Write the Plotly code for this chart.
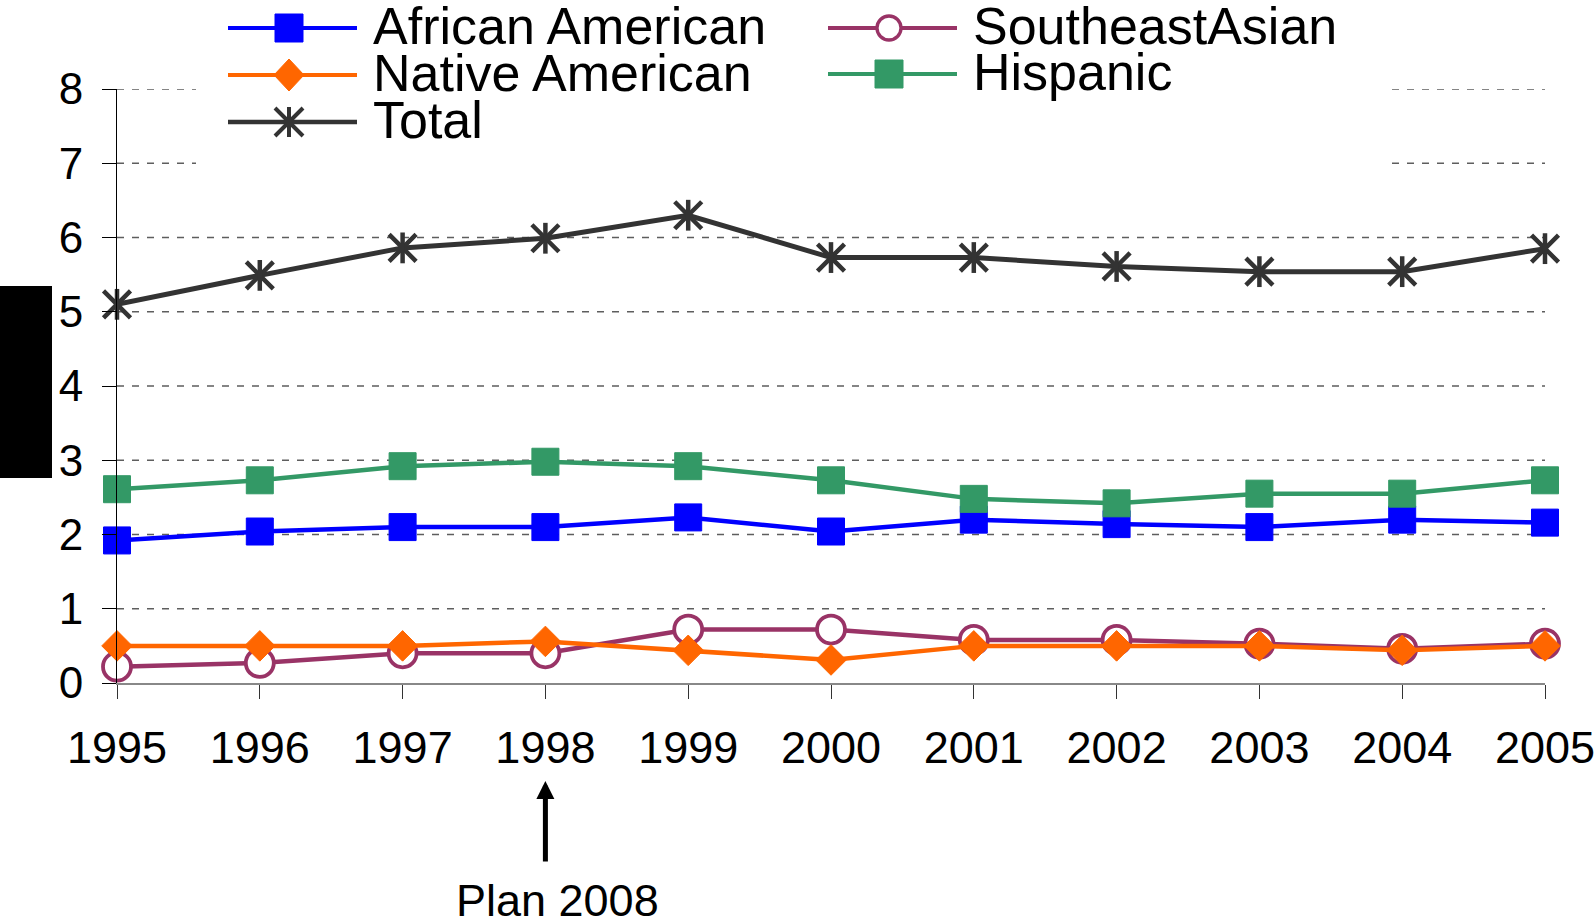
import plotly.graph_objects as go

# ---- data -------------------------------------------------------------
years = [1995, 1996, 1997, 1998, 1999, 2000, 2001, 2002, 2003, 2004, 2005]
african_american = [1.92, 2.04, 2.10, 2.10, 2.23, 2.04, 2.20, 2.14, 2.10, 2.20, 2.16]
southeast_asian = [0.22, 0.27, 0.40, 0.40, 0.72, 0.72, 0.58, 0.58, 0.53, 0.46, 0.53]
native_american = [0.50, 0.50, 0.50, 0.56, 0.44, 0.31, 0.50, 0.50, 0.50, 0.44, 0.50]
hispanic = [2.61, 2.73, 2.92, 2.98, 2.92, 2.73, 2.48, 2.42, 2.55, 2.55, 2.73]
total = [5.10, 5.49, 5.86, 5.99, 6.30, 5.73, 5.73, 5.61, 5.54, 5.54, 5.85]
y_ticks = [0, 1, 2, 3, 4, 5, 6, 7, 8]

# ---- page geometry (pixels) -----------------------------------------
W, H = 1594, 924
ML, MR, MT, MB = 117, 49, 89, 241
PW, PH = W - ML - MR, H - MT - MB
FONT = "Liberation Sans, Arial, sans-serif"

BLUE, ORANGE, PLUM, GREEN, DARK = "#0000FF", "#FF6600", "#993366", "#339966", "#333333"
GRID = "#5e5e5e"

# legend panel extent (pixels); grid lines pass behind it
LEG_X0, LEG_X1, LEG_Y1 = 196, 1392, 200


def px(x):
    """page pixel x -> paper x"""
    return (x - ML) / PW


def py(y):
    """page pixel y (from top) -> paper y"""
    return (H - MB - y) / PH


fig = go.Figure()

fig.add_trace(go.Scatter(
    x=years, y=african_american, mode="lines+markers", name="African American",
    line=dict(color=BLUE, width=4.5), cliponaxis=False,
    marker=dict(symbol="square", size=27, color=BLUE, line=dict(color=BLUE, width=1)),
))
fig.add_trace(go.Scatter(
    x=years, y=southeast_asian, mode="lines+markers", name="SoutheastAsian",
    line=dict(color=PLUM, width=4.5), cliponaxis=False,
    marker=dict(symbol="circle", size=28, color="white", line=dict(color=PLUM, width=3.8)),
))
fig.add_trace(go.Scatter(
    x=years, y=native_american, mode="lines+markers", name="Native American",
    line=dict(color=ORANGE, width=4.5), cliponaxis=False,
    marker=dict(symbol="diamond", size=23.5, color=ORANGE, line=dict(color=ORANGE, width=1)),
))
fig.add_trace(go.Scatter(
    x=years, y=hispanic, mode="lines+markers", name="Hispanic",
    line=dict(color=GREEN, width=4.5), cliponaxis=False,
    marker=dict(symbol="square", size=27, color=GREEN, line=dict(color=GREEN, width=1)),
))
# Total: line with an X marker, plus a vertical bar to form the star
fig.add_trace(go.Scatter(
    x=years, y=total, mode="lines+markers", name="Total",
    line=dict(color=DARK, width=5), cliponaxis=False,
    marker=dict(symbol="x-thin-open", size=27, color=DARK, line=dict(color=DARK, width=4.5)),
))
fig.add_trace(go.Scatter(
    x=years, y=total, mode="markers", name="Total", showlegend=False, cliponaxis=False,
    marker=dict(symbol="line-ns-open", size=22, color=DARK, line=dict(color=DARK, width=4.5)),
))

shapes = []
annotations = []

# dashed horizontal grid lines; the upper ones stop at the legend panel
grid_line = dict(color=GRID, width=1.4, dash="7px,8px")
legend_bottom = 8 * (H - MB - LEG_Y1) / PH
for v in y_ticks[1:]:
    if v > legend_bottom:
        segs = [(0, px(LEG_X0)), (px(LEG_X1), 1)]
    else:
        segs = [(0, 1)]
    for a, b in segs:
        shapes.append(dict(type="line", xref="paper", yref="y", layer="below",
                           x0=a, x1=b, y0=v, y1=v, line=grid_line))

# legend entries: (label, colour, symbol, sample left x, row centre y)
legend_items = [
    ("African American", BLUE, "square", 228, 28),
    ("Native American", ORANGE, "diamond", 228, 75),
    ("Total", DARK, "star", 228, 122),
    ("SoutheastAsian", PLUM, "circle", 828, 28),
    ("Hispanic", GREEN, "square", 828, 74),
]
for label, col, sym, x0, yc in legend_items:
    shapes.append(dict(type="line", xref="paper", yref="paper", layer="above",
                       x0=px(x0), x1=px(x0 + 129), y0=py(yc), y1=py(yc),
                       line=dict(color=col, width=4 if sym != "star" else 4.5)))
    cx = x0 + 61
    if sym == "square":
        shapes.append(dict(type="rect", xref="paper", yref="paper", layer="above",
                           x0=px(cx - 14), x1=px(cx + 14), y0=py(yc + 14), y1=py(yc - 14),
                           fillcolor=col, line=dict(color=col, width=1)))
    elif sym == "diamond":
        path = (f"M{px(cx - 15)},{py(yc)} L{px(cx)},{py(yc - 16)} "
                f"L{px(cx + 15)},{py(yc)} L{px(cx)},{py(yc + 16)} Z")
        shapes.append(dict(type="path", xref="paper", yref="paper", layer="above",
                           path=path, fillcolor=col, line=dict(color=col, width=1)))
    elif sym == "circle":
        shapes.append(dict(type="circle", xref="paper", yref="paper", layer="above",
                           x0=px(cx - 12), x1=px(cx + 12), y0=py(yc + 12), y1=py(yc - 12),
                           fillcolor="white", line=dict(color=col, width=3.3)))
    else:
        path = (f"M{px(cx)},{py(yc - 15)} L{px(cx)},{py(yc + 15)} "
                f"M{px(cx - 14)},{py(yc - 14)} L{px(cx + 14)},{py(yc + 14)} "
                f"M{px(cx + 14)},{py(yc - 14)} L{px(cx - 14)},{py(yc + 14)}")
        shapes.append(dict(type="path", xref="paper", yref="paper", layer="above",
                           path=path, line=dict(color=col, width=4)))
    annotations.append(dict(
        text=label, xref="paper", yref="paper", x=px(x0 + 143), y=py(yc - 2),
        xanchor="left", yanchor="middle", showarrow=False,
        font=dict(family=FONT, size=52, color="black"),
    ))

# black block at the left edge
shapes.append(dict(type="rect", xref="paper", yref="paper", layer="above",
                   x0=px(0), x1=px(52), y0=py(478), y1=py(286),
                   fillcolor="black", line=dict(width=0)))

# arrow marking 1998 and its caption
annotations.append(dict(
    text="", x=1998, xref="x", y=py(781), yref="paper",
    showarrow=True, ax=0, ay=82, arrowhead=2, arrowwidth=5, arrowsize=0.72,
    arrowcolor="black",
))
annotations.append(dict(
    text="Plan 2008", xref="paper", yref="paper", x=px(557), y=py(900),
    xanchor="center", yanchor="middle", showarrow=False,
    font=dict(family=FONT, size=45, color="black"),
))

fig.update_layout(
    template="none",
    width=W, height=H,
    margin=dict(l=ML, r=MR, t=MT, b=MB, pad=0),
    paper_bgcolor="white", plot_bgcolor="white",
    showlegend=False,
    font=dict(family=FONT, color="black"),
    shapes=shapes,
    annotations=annotations,
    xaxis=dict(
        range=[1995, 2005], tickmode="array", tickvals=years,
        ticktext=[str(y) for y in years],
        showgrid=False, zeroline=False,
        showline=True, linecolor="#888888", linewidth=2,
        ticks="outside", ticklen=14, tickwidth=1, tickcolor="#333333",
        tickfont=dict(family=FONT, size=45, color="black"),
        ticklabelstandoff=10, ticklabeloverflow="allow", automargin=False,
    ),
    yaxis=dict(
        range=[0, 8], tickmode="array", tickvals=y_ticks,
        showgrid=False, zeroline=False,
        showline=True, linecolor="black", linewidth=1,
        ticks="outside", ticklen=14, tickwidth=1, tickcolor="black",
        tickfont=dict(family=FONT, size=44, color="black"),
        ticklabelstandoff=10, automargin=False,
    ),
)

fig.write_html("out.html")
